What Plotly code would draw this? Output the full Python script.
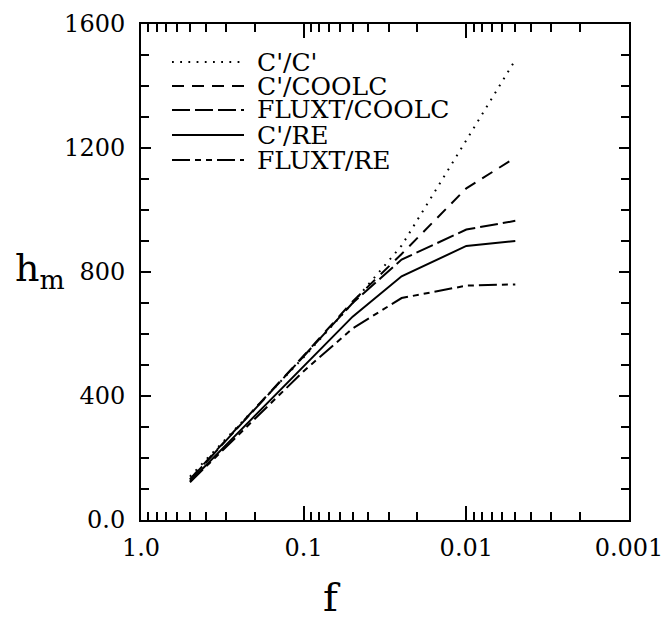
import plotly.graph_objects as go

# mixing fraction f and mixing height h_m for each scheme
f_vals = [0.5, 0.1, 0.05, 0.025, 0.01, 0.005]
h_cc = [140, 525, 700, 885, 1225, 1484]
h_c_coolc = [132, 530, 705, 858, 1070, 1169]
h_fluxt_coolc = [130, 527, 700, 840, 937, 965]
h_c_re = [124, 497, 656, 786, 884, 900]
h_fluxt_re = [122, 480, 618, 716, 756, 760]

series_names = ["C'/C'", "C'/COOLC", "FLUXT/COOLC", "C'/RE", "FLUXT/RE"]
series_values = [h_cc, h_c_coolc, h_fluxt_coolc, h_c_re, h_fluxt_re]
dash_styles = ["1.8px,6.4px", "12px,8px", "18px,5px", "solid", "18px,5px,6px,5px,6px,5px"]

x_tick_vals = [1.0, 0.1, 0.01, 0.001]
x_tick_text = ["1.0", "0.1", "0.01", "0.001"]
y_tick_vals = [0, 400, 800, 1200, 1600]
y_tick_text = ["0.0", "400", "800", "1200", "1600"]

FONT = "DejaVu Serif"
W, H = 665, 620
L, R, T, B = 141, 36, 24, 100

fig = go.Figure()
for name, vals, dash in zip(series_names, series_values, dash_styles):
    fig.add_trace(go.Scatter(
        x=f_vals, y=vals, mode="lines", name=name,
        line=dict(color="black", width=2, dash=dash),
        showlegend=False,
    ))

# hand-drawn key in the upper left of the frame
plot_w = W - L - R
plot_h = H - T - B
key_rows_px = [62, 86, 110, 135, 160]
for name, dash, py in zip(series_names, dash_styles, key_rows_px):
    yp = (H - B - py) / plot_h
    fig.add_shape(
        type="line", xref="paper", yref="paper",
        x0=(172 - L) / plot_w, x1=(244 - L) / plot_w, y0=yp, y1=yp,
        line=dict(color="black", width=2, dash=dash),
    )
    fig.add_annotation(
        text=name, xref="paper", yref="paper",
        x=(256 - L) / plot_w, y=yp, xanchor="left", yanchor="middle",
        showarrow=False, borderpad=0,
        font=dict(family=FONT, size=25, color="black"),
    )

minor_x = [k * d for d in (0.1, 0.01, 0.001) for k in range(2, 10)]

fig.update_xaxes(
    type="log", range=[0, -3], automargin=False,
    tickmode="array", tickvals=x_tick_vals, ticktext=x_tick_text,
    ticks="inside", ticklen=14, tickwidth=1.5, tickcolor="black",
    minor=dict(tickmode="array", tickvals=minor_x, ticks="inside",
               ticklen=8, tickwidth=1.5, tickcolor="black", showgrid=False),
    showline=True, linecolor="black", linewidth=2, mirror="allticks",
    showgrid=False, zeroline=False,
    tickfont=dict(family=FONT, size=24, color="black"),
    ticklabelstandoff=5,
)
fig.update_yaxes(
    range=[0, 1600], automargin=False,
    tickmode="array", tickvals=y_tick_vals, ticktext=y_tick_text,
    ticks="inside", ticklen=10, tickwidth=1.5, tickcolor="black",
    minor=dict(dtick=100, ticks="inside", ticklen=8, tickwidth=1.5,
               tickcolor="black", showgrid=False),
    showline=True, linecolor="black", linewidth=2, mirror="allticks",
    showgrid=False, zeroline=False,
    tickfont=dict(family=FONT, size=24, color="black"),
    ticklabelstandoff=9,
)

# axis titles
fig.add_annotation(
    text="h<sub>m</sub>", xref="paper", yref="paper",
    x=-(L - 40) / plot_w, y=(H - B - 270) / plot_h,
    xanchor="center", yanchor="middle", showarrow=False,
    font=dict(family=FONT, size=38, color="black"),
)
fig.add_annotation(
    text="f", xref="paper", yref="paper",
    x=(332 - L) / plot_w, y=-(597 - (H - B)) / plot_h,
    xanchor="center", yanchor="middle", showarrow=False,
    font=dict(family=FONT, size=40, color="black"),
)

fig.update_layout(
    width=W, height=H,
    margin=dict(l=L, r=R, t=T, b=B),
    paper_bgcolor="white", plot_bgcolor="white",
)

fig.write_html("out.html")
